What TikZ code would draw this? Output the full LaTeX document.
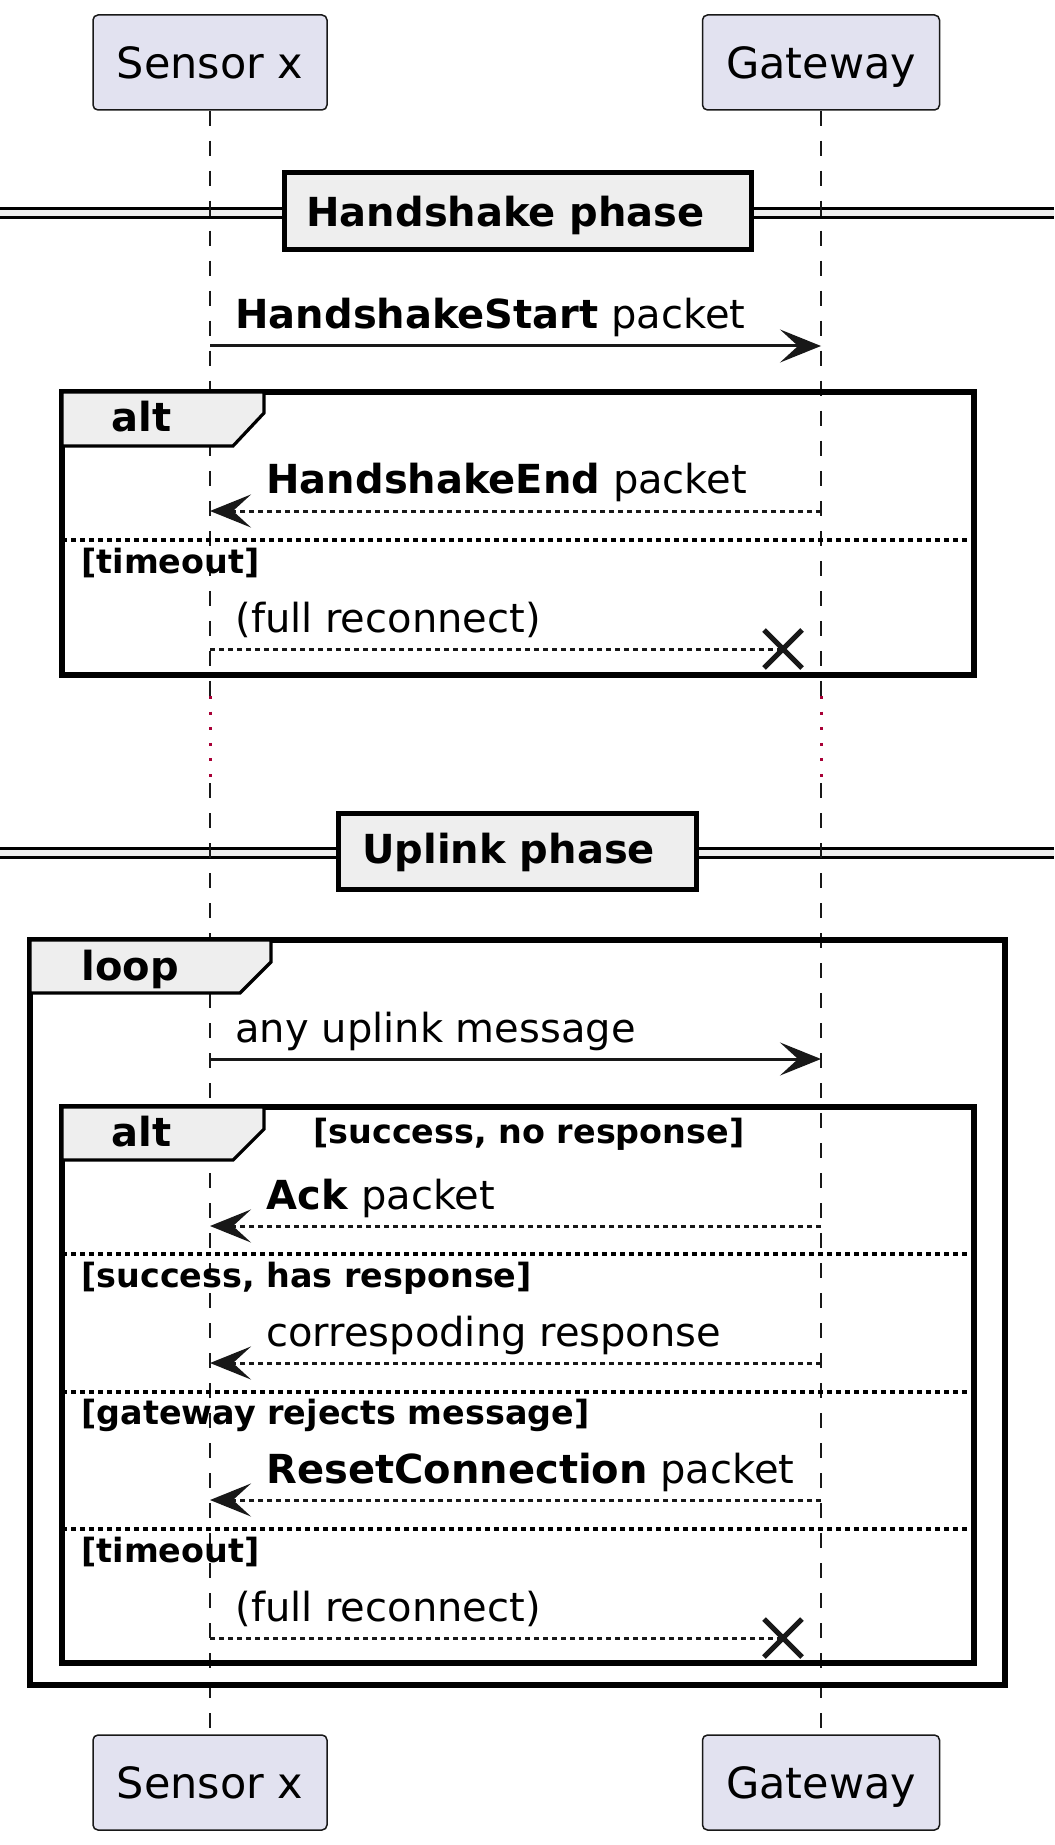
\documentclass[tikz,border=0pt]{standalone}
\usepackage{fontspec}
\setmainfont{DejaVu Sans}
\usetikzlibrary{arrows.meta}
\definecolor{partfill}{HTML}{E2E2F0}
\definecolor{lineclr}{HTML}{181818}
\definecolor{tabfill}{HTML}{EEEEEE}
\definecolor{delayred}{HTML}{A80036}
\begin{document}
\begin{tikzpicture}[x=0.5pt,y=-0.5pt,
 part/.style={draw=lineclr,fill=partfill,rounded corners=2.5pt,line width=0.75pt,minimum width=117pt,minimum height=47.5pt,inner sep=0pt,text depth=0pt,font=\fontsize{21.5}{26}\selectfont},
 life/.style={lineclr,line width=0.6pt,dash pattern=on 7.5pt off 7.5pt},
 delay/.style={delayred,line width=1.5pt,dash pattern=on 1.5pt off 6.3pt},
 msg/.style={lineclr,line width=1.5pt,-{Stealth[length=20.5pt,width=16.5pt,inset=9pt]}},
 ret/.style={msg,dash pattern=on 2.5pt off 2pt},
 lost/.style={lineclr,line width=1.5pt,dash pattern=on 2.5pt off 2pt},
 xmark/.style={lineclr,line width=2.5pt},
 frame/.style={draw=black,line width=2.6pt},
 tab/.style={draw=black,fill=tabfill,line width=1.6pt},
 divbox/.style={draw=black,fill=tabfill,line width=2.5pt},
 sep/.style={black,line width=1.6pt,dash pattern=on 2.5pt off 2pt},
 lbl/.style={anchor=base west,inner sep=0pt,font=\fontsize{20}{24}\selectfont},
 head/.style={lbl,font=\fontsize{20}{24}\selectfont\bfseries},
 guard/.style={anchor=base west,inner sep=0pt,font=\fontsize{16.7}{20}\selectfont\bfseries}]
\useasboundingbox (0,0) rectangle (1054,1845);
\node[part] (s1) at (210,62.5) {Sensor x};
\node[part,minimum width=118.5pt] (g1) at (821,62.5) {Gateway};
\node[part] (s2) at (210,1782.5) {Sensor x};
\node[part,minimum width=118.5pt] (g2) at (821,1782.5) {Gateway};
\coordinate (sd1) at (210,696); \coordinate (sd2) at (210,783);
\coordinate (gd1) at (821,696); \coordinate (gd2) at (821,783);
\fill[tabfill] (0,209) rectangle (1054,218) (0,848) rectangle (1054,857);
\draw[line width=1.5pt] (0,209) -- (1054,209) (0,218) -- (1054,218) (0,848) -- (1054,848) (0,857) -- (1054,857);
\draw[life] (s1.south) -- (sd1) (sd2) -- (s2.north);
\draw[life] (g1.south) -- (gd1) (gd2) -- (g2.north);
\draw[delay] (sd1) -- (sd2) (gd1) -- (gd2);
\draw[divbox] (284,173) rectangle (751,250);
\node[head] (hs) at (306,227) {Handshake phase};
\draw[divbox] (338,813) rectangle (696,889);
\node[head] (up) at (362,863) {Uplink phase};
\draw[msg] (s1 |- 0,346) -- (g1 |- 0,346);
\node[lbl] (m1) at (235,329) {\textbf{HandshakeStart} packet};
\draw[frame] (62,392) rectangle (974,675);
\draw[tab] (62,392) -- (264,392) -- (264,413) -- (233,446) -- (62,446) -- cycle;
\node[head] (alt1) at (111,432) {alt};
\draw[ret] (g1 |- 0,511) -- (s1 |- 0,511);
\node[lbl] (m2) at (266,494) {\textbf{HandshakeEnd} packet};
\draw[sep] (62,540) -- (974,540);
\node[guard] (c1) at (81,573) {[timeout]};
\coordinate (x1) at (783,649);
\draw[lost] (s1 |- x1) -- (x1);
\draw[xmark] ([shift={(-19,-19)}]x1) -- ([shift={(19,19)}]x1) ([shift={(-19,19)}]x1) -- ([shift={(19,-19)}]x1);
\node[lbl] (m3) at (235,632) {(full reconnect)};
\draw[frame] (30,940) rectangle (1005,1685);
\draw[tab] (30,940) -- (271,940) -- (271,962) -- (240,993) -- (30,993) -- cycle;
\node[head] (loop) at (81,980) {loop};
\draw[msg] (s1 |- 0,1059) -- (g1 |- 0,1059);
\node[lbl] (m4) at (235,1042) {any uplink message};
\draw[frame] (62,1107) rectangle (974,1663);
\draw[tab] (62,1107) -- (264,1107) -- (264,1129) -- (233,1160) -- (62,1160) -- cycle;
\node[head] (alt2) at (111,1146) {alt};
\node[guard] (c2) at (313,1143) {[success, no response]};
\draw[ret] (g1 |- 0,1226) -- (s1 |- 0,1226);
\node[lbl] (m5) at (266,1209) {\textbf{Ack} packet};
\draw[sep] (62,1254) -- (974,1254);
\node[guard] (c3) at (81,1287) {[success, has response]};
\draw[ret] (g1 |- 0,1363) -- (s1 |- 0,1363);
\node[lbl] (m6) at (266,1346) {correspoding response};
\draw[sep] (62,1392) -- (974,1392);
\node[guard] (c4) at (81,1424) {[gateway rejects message]};
\draw[ret] (g1 |- 0,1500) -- (s1 |- 0,1500);
\node[lbl] (m7) at (266,1483) {\textbf{ResetConnection} packet};
\draw[sep] (62,1529) -- (974,1529);
\node[guard] (c5) at (81,1562) {[timeout]};
\coordinate (x2) at (783,1638);
\draw[lost] (s1 |- x2) -- (x2);
\draw[xmark] ([shift={(-19,-19)}]x2) -- ([shift={(19,19)}]x2) ([shift={(-19,19)}]x2) -- ([shift={(19,-19)}]x2);
\node[lbl] (m8) at (235,1621) {(full reconnect)};
\end{tikzpicture}
\end{document}
